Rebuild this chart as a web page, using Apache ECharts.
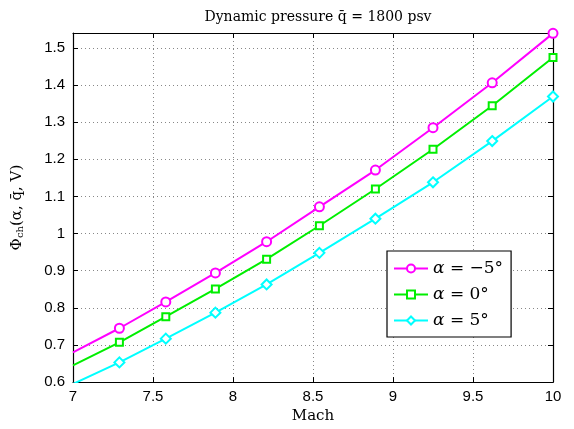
<!DOCTYPE html>
<html>
<head>
<meta charset="utf-8">
<script src="https://cdn.jsdelivr.net/npm/echarts@6/dist/echarts.min.js"></script>
<style>
  html, body { margin: 0; padding: 0; background: #fff; }
  #main { width: 574px; height: 429px; }
</style>
</head>
<body>
<div id="main"></div>
<script>
// Mach numbers (first point has no marker)
var mach = [7, 7.29, 7.58, 7.89, 8.21, 8.54, 8.89, 9.25, 9.62, 10.0];
var phiNeg5 = [0.680, 0.745, 0.816, 0.894, 0.978, 1.072, 1.171, 1.285, 1.406, 1.539];
var phi0 = [0.645, 0.707, 0.776, 0.851, 0.931, 1.021, 1.120, 1.227, 1.344, 1.474];
var phi5 = [0.595, 0.653, 0.717, 0.787, 0.863, 0.948, 1.040, 1.138, 1.249, 1.369];
var names = ['α = −5°', 'α = 0°', 'α = 5°'];

var serif = '"DejaVu Serif", "Liberation Serif", serif';
var sans = '"Liberation Sans", Arial, sans-serif';

function pts(ys) {
  return mach.map(function (x, i) {
    var p = { value: [x, ys[i]] };
    if (i === 0) p.symbol = 'none';
    return p;
  });
}

function makeSeries(name, ys, color, symbol, size) {
  return {
    name: name,
    type: 'line',
    data: pts(ys),
    symbol: symbol,
    symbolSize: size,
    showAllSymbol: true,
    lineStyle: { color: color, width: 2 },
    itemStyle: { color: color, borderWidth: 1.5 },
    animation: false
  };
}

var chart = echarts.init(document.getElementById('main'));

chart.setOption({
  backgroundColor: '#fff',
  title: {
    text: 'Dynamic pressure q̄ = 1800 psv',
    left: 313,
    textAlign: 'center',
    top: 5,
    textStyle: { fontFamily: serif, fontSize: 14, fontWeight: 'normal', color: '#000' }
  },
  grid: { left: 73, right: 21, top: 33, bottom: 44 },
  legend: {
    orient: 'vertical',
    left: 387,
    top: 251,
    width: 125,
    itemWidth: 34,
    itemHeight: 10,
    itemGap: 9,
    padding: [9, 8, 8, 6],
    borderColor: '#000',
    borderWidth: 1.2,
    backgroundColor: '#fff',
    data: names,
    formatter: function (n) {
      return n.replace('α', '{a|α}');
    },
    textStyle: {
      fontFamily: serif, fontSize: 17, color: '#000',
      rich: { a: { fontFamily: serif, fontStyle: 'italic', fontSize: 17, color: '#000' } }
    }
  },
  xAxis: [{
    type: 'value',
    min: 7,
    max: 10,
    interval: 0.5,
    name: 'Mach',
    nameLocation: 'middle',
    nameGap: 26,
    nameTextStyle: { fontFamily: serif, fontSize: 15, color: '#000' },
    axisLine: { onZero: false, lineStyle: { color: '#000', width: 1.2 } },
    axisTick: { inside: true, length: 5, lineStyle: { color: '#000' } },
    axisLabel: { fontFamily: sans, fontSize: 15, color: '#000', margin: 7 },
    splitLine: { show: true, lineStyle: { color: '#888', type: [1, 3], width: 1 } }
  }, {
    type: 'value',
    position: 'top',
    min: 7,
    max: 10,
    interval: 0.5,
    axisLine: { onZero: false, lineStyle: { color: '#000', width: 1.2 } },
    axisTick: { inside: true, length: 5, lineStyle: { color: '#000' } },
    axisLabel: { show: false },
    splitLine: { show: false }
  }],
  yAxis: [{
    type: 'value',
    min: 0.6,
    max: 1.54,
    interval: 0.1,
    name: 'Φ{s|ch}(α, q̄, V)',
    nameLocation: 'middle',
    nameGap: 48,
    nameRotate: 90,
    nameTextStyle: {
      fontFamily: serif, fontSize: 15, color: '#000',
      rich: { s: { fontFamily: serif, fontSize: 10, color: '#000', verticalAlign: 'bottom', padding: [6, 0, 0, 0] } }
    },
    axisLine: { onZero: false, lineStyle: { color: '#000', width: 1.2 } },
    axisTick: { inside: true, length: 5, lineStyle: { color: '#000' } },
    axisLabel: {
      fontFamily: sans, fontSize: 15, color: '#000', margin: 8,
      showMaxLabel: false,
      formatter: function (v) { return (Math.round(v * 10) / 10).toString(); }
    },
    splitLine: { show: true, lineStyle: { color: '#888', type: [1, 3], width: 1 } }
  }, {
    type: 'value',
    position: 'right',
    min: 0.6,
    max: 1.54,
    interval: 0.1,
    axisLine: { onZero: false, lineStyle: { color: '#000', width: 1.2 } },
    axisTick: { inside: true, length: 5, lineStyle: { color: '#000' } },
    axisLabel: { show: false },
    splitLine: { show: false }
  }],
  series: [
    makeSeries(names[0], phiNeg5, '#ff00ff', 'emptyCircle', 9),
    makeSeries(names[1], phi0, '#00ee00', 'emptyRect', 7),
    makeSeries(names[2], phi5, '#00ffff', 'emptyDiamond', 10)
  ]
});
</script>
</body>
</html>
